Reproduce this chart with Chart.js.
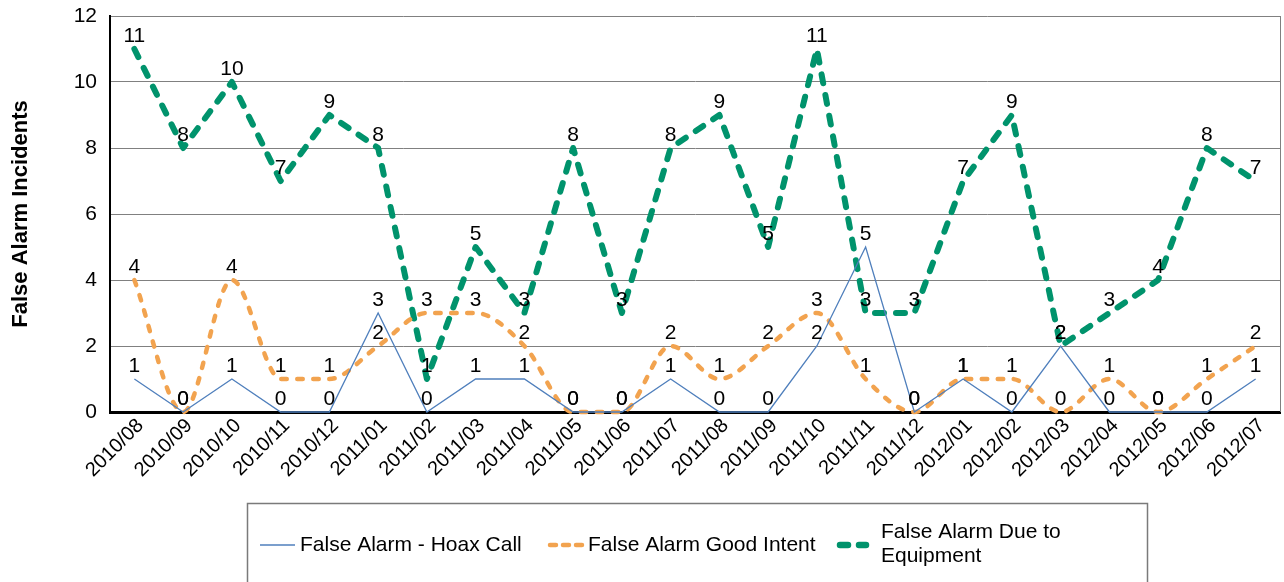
<!DOCTYPE html>
<html>
<head>
<meta charset="utf-8">
<script src="https://cdn.jsdelivr.net/npm/chart.js@4.4.1/dist/chart.umd.min.js"></script>
<style>
  html, body { margin: 0; padding: 0; background: #fff; }
  #wrap { width: 1284px; height: 582px; }
</style>
</head>
<body>
<div id="wrap"><canvas id="grafico" width="1284" height="582"></canvas></div>
<script>
const meses = ['2010/08','2010/09','2010/10','2010/11','2010/12','2011/01','2011/02','2011/03',
  '2011/04','2011/05','2011/06','2011/07','2011/08','2011/09','2011/10','2011/11','2011/12',
  '2012/01','2012/02','2012/03','2012/04','2012/05','2012/06','2012/07'];
const hoax      = [1, 0, 1, 0, 0, 3, 0, 1, 1, 0, 0, 1, 0, 0, 2, 5, 0, 1, 0, 2, 0, 0, 0, 1];
const goodIntent = [4, 0, 4, 1, 1, 2, 3, 3, 2, 0, 0, 2, 1, 2, 3, 1, 0, 1, 1, 0, 1, 0, 1, 2];
const equipment = [11, 8, 10, 7, 9, 8, 1, 5, 3, 8, 3, 8, 9, 5, 11, 3, 3, 7, 9, 2, 3, 4, 8, 7];
const yMin = 0, yMax = 12, yStep = 2;

const FONT = '"Liberation Sans", Arial, sans-serif';
const BLUE = '#4f7fbc', ORANGE = '#f2a34f', GREEN = '#00936c';

// etiquetas de valor encima de cada punto
const etiquetas = {
  id: 'etiquetas',
  afterDatasetsDraw(chart) {
    const ctx = chart.ctx;
    ctx.save();
    ctx.font = '21px ' + FONT;
    ctx.fillStyle = '#000';
    ctx.textAlign = 'center';
    ctx.textBaseline = 'alphabetic';
    chart.data.datasets.forEach((ds, i) => {
      chart.getDatasetMeta(i).data.forEach((pt, j) => {
        ctx.fillText(String(ds.data[j]), pt.x, pt.y - 7);
      });
    });
    ctx.restore();
  }
};

// borde del area y leyenda propia (texto en dos lineas)
const marco = {
  id: 'marco',
  afterDraw(chart) {
    const ctx = chart.ctx;
    const a = chart.chartArea;
    ctx.save();
    ctx.strokeStyle = '#808080';
    ctx.lineWidth = 1;
    ctx.beginPath();
    ctx.moveTo(a.right + 0.5, a.top);
    ctx.lineTo(a.right + 0.5, a.bottom);
    ctx.stroke();

    // caja de leyenda
    ctx.strokeStyle = '#7a7a7a';
    ctx.lineWidth = 1.5;
    ctx.strokeRect(247.5, 503.5, 900, 120);

    const yc = 545;
    ctx.lineCap = 'butt';
    ctx.strokeStyle = BLUE;
    ctx.lineWidth = 1.3;
    ctx.beginPath(); ctx.moveTo(260, yc); ctx.lineTo(295, yc); ctx.stroke();

    ctx.lineCap = 'round';
    ctx.strokeStyle = ORANGE;
    ctx.lineWidth = 4.5;
    ctx.setLineDash([6, 7]);
    ctx.beginPath(); ctx.moveTo(550, yc); ctx.lineTo(583, yc); ctx.stroke();

    ctx.strokeStyle = GREEN;
    ctx.lineWidth = 6.5;
    ctx.setLineDash([8, 11]);
    ctx.beginPath(); ctx.moveTo(840, yc); ctx.lineTo(866, yc); ctx.stroke();
    ctx.setLineDash([]);

    ctx.fillStyle = '#000';
    ctx.font = '21px ' + FONT;
    ctx.textAlign = 'left';
    ctx.textBaseline = 'middle';
    ctx.fillText('False Alarm - Hoax Call', 300, yc);
    ctx.fillText('False Alarm Good Intent', 588, yc);
    ctx.fillText('False Alarm Due to', 881, 532);
    ctx.fillText('Equipment', 881, 556);
    ctx.restore();
  }
};

const ctx = document.getElementById('grafico').getContext('2d');
new Chart(ctx, {
  type: 'line',
  data: {
    labels: meses,
    datasets: [{
      label: 'False Alarm - Hoax Call',
      data: hoax,
      borderColor: BLUE,
      borderWidth: 1.3,
      pointRadius: 0,
      tension: 0,
      clip: false
    }, {
      label: 'False Alarm Good Intent',
      data: goodIntent,
      borderColor: ORANGE,
      borderWidth: 4.5,
      borderDash: [5.5, 10.5],
      borderCapStyle: 'round',
      borderJoinStyle: 'round',
      pointRadius: 0,
      cubicInterpolationMode: 'monotone',
      clip: false
    }, {
      label: 'False Alarm Due to Equipment',
      data: equipment,
      borderColor: GREEN,
      borderWidth: 6,
      borderDash: [9, 12],
      borderCapStyle: 'round',
      borderJoinStyle: 'round',
      pointRadius: 0,
      tension: 0,
      clip: false
    }]
  },
  options: {
    responsive: false,
    animation: false,
    layout: { padding: { top: 16, right: 4, left: 0, bottom: 0 } },
    plugins: {
      legend: { display: false },
      tooltip: { enabled: false }
    },
    scales: {
      x: {
        offset: true,
        grid: { display: false, drawTicks: false },
        border: { display: true, color: '#000', width: 3 },
        ticks: {
          color: '#000',
          font: { family: FONT, size: 20 },
          maxRotation: 45,
          minRotation: 45,
          autoSkip: false,
          labelOffset: 6,
          padding: 2
        },
        afterFit(scale) {
          scale.height = 170;
          scale.paddingLeft = 0;
          scale.paddingRight = 0;
        }
      },
      y: {
        min: yMin,
        max: yMax,
        grid: { color: '#808080', lineWidth: 1, drawTicks: false },
        border: { display: true, color: '#000', width: 2 },
        ticks: {
          stepSize: yStep,
          color: '#000',
          font: { family: FONT, size: 21 },
          padding: 13
        },
        title: {
          display: true,
          text: 'False Alarm Incidents',
          color: '#000',
          font: { family: FONT, size: 22, weight: 'bold' },
          padding: { top: 8, bottom: 0 }
        },
        afterFit(scale) {
          scale.width = 110;
          scale.paddingTop = 0;
          scale.paddingBottom = 0;
        }
      }
    }
  },
  plugins: [etiquetas, marco]
});
</script>
</body>
</html>
